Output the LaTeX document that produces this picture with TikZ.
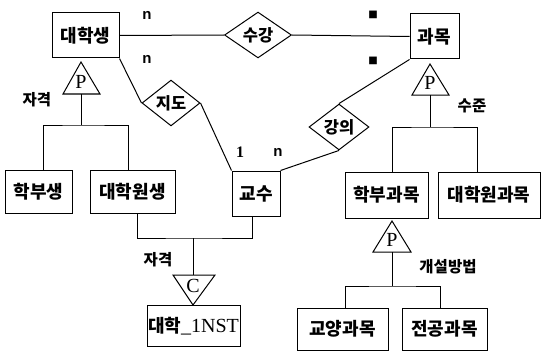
\documentclass[tikz,border=0pt]{standalone}
\usepackage{fontspec}
\usetikzlibrary{shapes.geometric}
\newfontfamily\kr{Noto Sans CJK KR}
\newfontfamily\dejavu{DejaVu Sans}
\newfontfamily\tms{Liberation Serif}
\newfontfamily\arl{Liberation Sans}
\tikzset{
  ent/.style={draw, line width=1pt, inner sep=0pt, font=\kr\bfseries\fontsize{18}{18}\selectfont},
  rel/.style={draw, diamond, line width=1pt, inner sep=0pt, font=\kr\bfseries\fontsize{16.5}{16.5}\selectfont},
  lbl/.style={font=\kr\bfseries\fontsize{15.5}{15.5}\selectfont, inner sep=0pt},
  card/.style={font=\arl\bfseries\fontsize{15}{15}\selectfont, inner sep=0pt},
  sq/.style={font=\dejavu\fontsize{10}{10}\selectfont, inner sep=0pt},
  tri/.style={line width=1pt},
  trilet/.style={font=\tms\fontsize{20}{20}\selectfont, inner sep=0pt},
  every path/.style={line width=1pt}
}
\begin{document}
\begin{tikzpicture}[x=1pt,y=-1pt]
\useasboundingbox (0,0) rectangle (541,353);
% entities
\node[ent, minimum width=67, minimum height=45] (dhs) at (85.5,35.5) {대학생};
\node[ent, minimum width=49, minimum height=45] (gm) at (434.5,36.5) {과목};
\node[ent, minimum width=48, minimum height=45] (gs) at (256,193.5) {교수};
\node[ent, minimum width=67, minimum height=43] (hbs) at (38.5,191.5) {학부생};
\node[ent, minimum width=85, minimum height=43] (dws) at (132.5,191.5) {대학원생};
\node[ent, minimum width=93, minimum height=41] (inst) at (193.5,326) {대학{\tms\mdseries\fontsize{20}{20}\selectfont\_1NST}};
\node[ent, minimum width=83, minimum height=46] (hbgm) at (386.5,195) {학부과목};
\node[ent, minimum width=102, minimum height=46] (dwgm) at (489,195) {대학원과목};
\node[ent, minimum width=91, minimum height=42] (gygm) at (342.5,329) {교양과목};
\node[ent, minimum width=85, minimum height=42] (jggm) at (444.5,329) {전공과목};
% relationships
\node[rel, minimum width=67, minimum height=34] (sg) at (258,35) {수강};
\node[rel, minimum width=58, minimum height=30] (jd) at (171,103) {지도};
\node[rel, minimum width=60, minimum height=33] (gu) at (339,127) {강의};
% relationship connectors
\draw (dhs.east) -- (sg.west);
\draw (sg.east) -- (gm.west);
\draw (dhs.south east) -- (jd.west);
\draw (jd.east) -- (gs.north west);
\draw (gm.south west) -- (gu.north);
\draw (gu.south) -- (gs.north east);
% cardinalities
\node[card] (c1) at (147,15) {n};
\node[card] (c2) at (147,59) {n};
\node[sq] (c3) at (373,15) {■};
\node[sq] (c4) at (373,61) {■};
\node[font=\tms\bfseries\fontsize{16}{16}\selectfont, inner sep=0pt] (c5) at (240,152) {1};
\node[card] (c6) at (278,152) {n};
% left P
\draw[tri] (81,62) -- (63,94) -- (100,94) -- cycle;
\node[trilet] (pl) at (81,82) {P};
\coordinate (plb) at (81,94);
\coordinate (plj) at (81,125);
\draw (plb) -- (plj);
\draw ([xshift=4.5pt]hbs.north) |- (plj) -| ([xshift=-4.5pt]dws.north);
\node[lbl] (l1) at (37,100) {자격};
% right P
\draw[tri] (430,64) -- (412,95) -- (449,95) -- cycle;
\node[trilet] (pr) at (430,83) {P};
\coordinate (prb) at (430,95);
\coordinate (prj) at (430,127);
\draw (prb) -- (prj);
\draw ([xshift=5.5pt]hbgm.north) |- (prj) -| ([xshift=-12pt]dwgm.north);
\node[lbl] (l2) at (472,106) {수준};
% lower P
\draw[tri] (392,221) -- (373,252) -- (411,252) -- cycle;
\node[trilet] (pd) at (392,240) {P};
\coordinate (pdb) at (392,252);
\coordinate (pdj) at (392,286);
\draw (pdb) -- (pdj);
\draw ([xshift=2.5pt]gygm.north) |- (pdj) -| ([xshift=-4.5pt]jggm.north);
\node[lbl] (l3) at (448,267) {개설방법};
% C
\draw[tri] (173,275) -- (215,275) -- (193,305) -- cycle;
\node[trilet] (cc) at (193,286) {C};
\coordinate (cj) at (193,238);
\coordinate (ct) at (193,275);
\draw ([xshift=4.5pt]dws.south) |- (cj) -| ([xshift=-4pt]gs.south);
\draw (cj) -- (ct);
\node[lbl] (l4) at (158,260) {자격};
\end{tikzpicture}
\end{document}
